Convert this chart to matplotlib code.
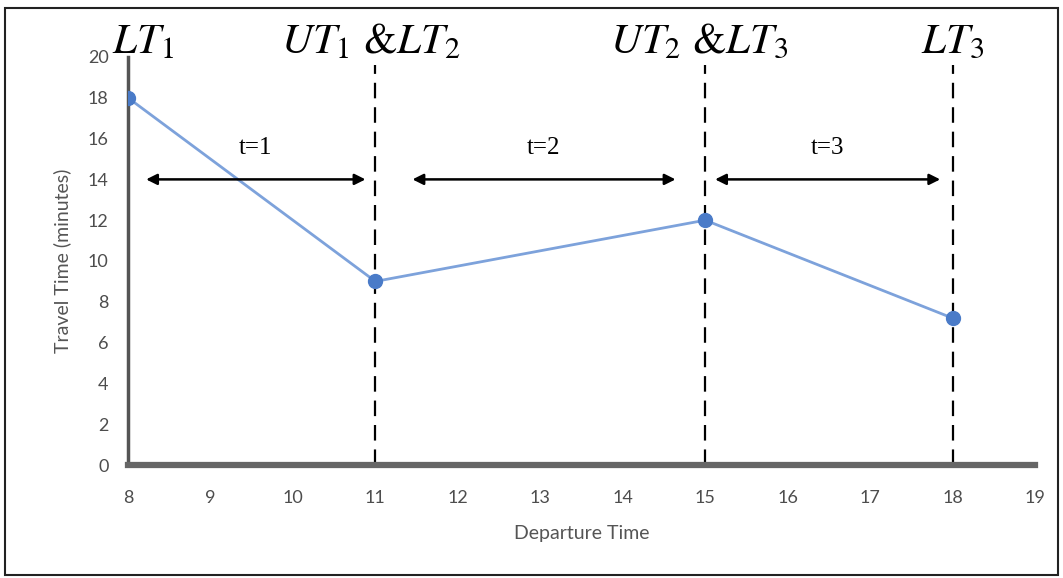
import matplotlib
matplotlib.use("Agg")
import matplotlib.pyplot as plt
from matplotlib.patches import Rectangle

# === DATA ===
departure = [8, 11, 15, 18]
travel_time = [18, 9, 12, 7.2]
boundary_x = [11, 15, 18]
top_labels = [r"$LT_1$", r"$UT_1\ &LT_2$", r"$UT_2\ &LT_3$", r"$LT_3$"]
top_label_x = [8.18, 10.95, 14.93, 18.0]
interval_labels = ["t=1", "t=2", "t=3"]
interval_start = [8.22, 11.45, 15.12]
interval_end = [10.88, 14.64, 17.85]
arrow_y = 14
xticks = list(range(8, 20))
yticks = list(range(0, 21, 2))

plt.rcParams['mathtext.fontset'] = 'stix'
tick_font = ['Lato', 'DejaVu Sans']

fig = plt.figure(figsize=(10.63, 5.78), dpi=100)
ax = fig.add_axes([0.1204, 0.1955, 0.8533, 0.7059])

ax.plot(departure, travel_time, color='#7DA2DB', lw=2, zorder=3)
ax.plot(departure, travel_time, 'o', color='#4A7BC8', ms=10, zorder=4)

# dashed boundaries
for bx in boundary_x:
    ax.vlines(bx, 0, 19.6, colors='black', linestyles=(0, (7, 4)), lw=1.6, zorder=2)

# interval arrows
for s, e, lab in zip(interval_start, interval_end, interval_labels):
    ax.annotate('', xy=(e, arrow_y), xytext=(s, arrow_y),
                arrowprops=dict(arrowstyle='<|-|>', color='black', lw=1.8,
                                mutation_scale=16, shrinkA=0, shrinkB=0))
    ax.text((s + e) / 2, arrow_y + 1.0, lab, ha='center', va='bottom',
            fontsize=18, family='Liberation Serif')

for lx, lab in zip(top_label_x, top_labels):
    ax.text(lx, 19.75, lab, ha='center', va='bottom', fontsize=31, clip_on=False)

ax.set_xlim(8, 19)
ax.set_ylim(0, 20)
ax.set_xticks(xticks)
ax.set_yticks(yticks)
for sp in ['top', 'right']:
    ax.spines[sp].set_visible(False)
ax.spines['left'].set_color('#555555')
ax.spines['left'].set_linewidth(2.5)
ax.spines['bottom'].set_color('#666666')
ax.spines['bottom'].set_linewidth(4.5)
ax.tick_params(length=0, labelcolor='#4d4d4d', labelsize=13)
ax.tick_params(axis='x', pad=18)
ax.tick_params(axis='y', pad=14)
for t in ax.get_xticklabels() + ax.get_yticklabels():
    t.set_family(tick_font)

ax.set_xlabel("Departure Time", fontsize=14, color='#555555', family=tick_font, labelpad=14)
ax.set_ylabel("Travel Time (minutes)", fontsize=14, color='#555555', family=tick_font, labelpad=12)

# outer border
fig.patches.append(Rectangle((0.005, 0.005), 0.99, 0.982, transform=fig.transFigure,
                             fill=False, edgecolor='#222222', lw=1.5))

fig.savefig("out.png", dpi=100)
